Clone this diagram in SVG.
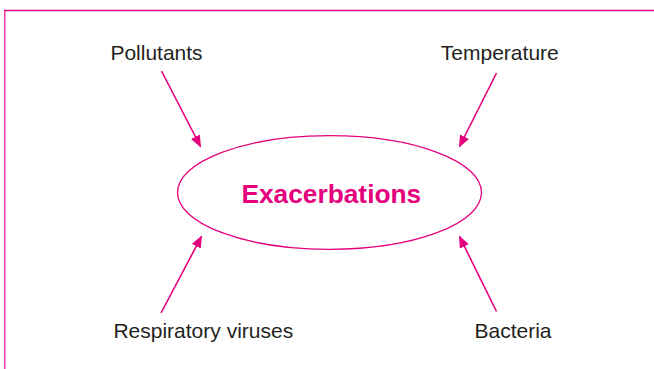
<svg xmlns="http://www.w3.org/2000/svg" width="654" height="369" viewBox="0 0 654 369">
  <style>
    .frame { stroke: #e8088a; fill: none; }
    .label { font-family: "Liberation Sans", Arial, sans-serif; font-size: 21px; fill: #231f20; text-anchor: middle; }
    .title { font-family: "Liberation Sans", Arial, sans-serif; font-size: 26.3px; font-weight: bold; fill: #e5007d; text-anchor: middle; }
    .link { stroke: #e5007d; stroke-width: 1.6; fill: none; marker-end: url(#head); }
  </style>
  <defs>
    <marker id="head" viewBox="0 0 12 10" refX="11" refY="5" markerWidth="12" markerHeight="10" markerUnits="userSpaceOnUse" orient="auto">
      <path d="M0,0 L12,5 L0,10 Z" fill="#e5007d"/>
    </marker>
  </defs>
  <rect width="654" height="369" fill="#ffffff"/>

  <!-- open frame: top and left edges only -->
  <line class="frame" x1="4" y1="10.5" x2="654" y2="10.5" stroke-width="1.5"/>
  <line class="frame" x1="4.8" y1="10" x2="4.8" y2="369" stroke-width="1.2"/>

  <g id="exacerbations">
    <ellipse cx="329.5" cy="192.5" rx="152" ry="56.8" fill="none" stroke="#e5007d" stroke-width="1.3"/>
    <text class="title" x="331.3" y="202.5">Exacerbations</text>
  </g>

  <g id="pollutants">
    <text class="label" x="156.5" y="60">Pollutants</text>
  </g>
  <g id="temperature">
    <text class="label" x="499.8" y="60">Temperature</text>
  </g>
  <g id="respiratory-viruses">
    <text class="label" x="203.3" y="338">Respiratory viruses</text>
  </g>
  <g id="bacteria">
    <text class="label" x="513" y="338">Bacteria</text>
  </g>

  <g id="connectors">
    <line class="link" x1="161.5" y1="71" x2="200.5" y2="146.5"/>
    <line class="link" x1="496.5" y1="73" x2="459.5" y2="146.5"/>
    <line class="link" x1="161" y1="313" x2="201.5" y2="236.5"/>
    <line class="link" x1="496.5" y1="311.5" x2="459.5" y2="236.5"/>
  </g>
</svg>
